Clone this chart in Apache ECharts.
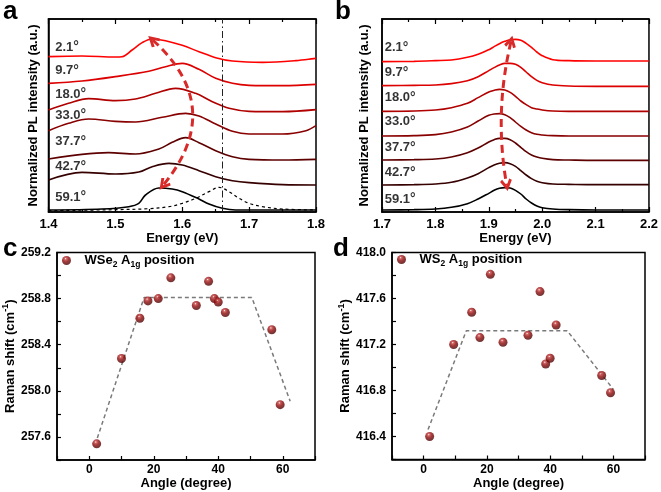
<!DOCTYPE html>
<html><head><meta charset="utf-8">
<script src="https://cdn.jsdelivr.net/npm/echarts@6/dist/echarts.min.js"></script>
<style>html,body{margin:0;padding:0;background:#fff}#c{width:661px;height:492px}</style>
</head><body><div id="c"></div>
<script>
// ---------------- data ----------------
const anglesPL = ['2.1', '9.7', '18.0', '33.0', '37.7', '42.7', '59.1'];

// Panel a: WSe2 PL spectra, [energy (eV), stacked intensity (a.u.)]
const plA_2_1  = [[1.40,466],[1.45,468],[1.50,465],[1.51,466],[1.525,486],[1.54,508],[1.555,519],[1.575,514],[1.60,500],[1.625,481],[1.65,463],[1.675,453],[1.72,449],[1.77,454],[1.80,461]];
const plA_9_7  = [[1.40,386],[1.45,393],[1.50,406],[1.55,422],[1.575,436],[1.60,446],[1.625,428],[1.65,401],[1.675,386],[1.70,380],[1.75,379],[1.80,383]];
const plA_18_0 = [[1.40,306],[1.43,326],[1.46,340],[1.50,334],[1.53,339],[1.56,356],[1.59,371],[1.62,356],[1.645,331],[1.67,311],[1.70,302],[1.75,301],[1.80,307]];
const plA_33_0 = [[1.40,244],[1.43,266],[1.46,279],[1.50,272],[1.53,270],[1.57,284],[1.605,296],[1.625,288],[1.65,264],[1.675,242],[1.70,234],[1.75,234],[1.785,244],[1.80,259]];
const plA_37_7 = [[1.40,159],[1.45,173],[1.49,178],[1.53,174],[1.565,189],[1.585,209],[1.605,223],[1.625,208],[1.65,184],[1.675,166],[1.70,158],[1.75,156],[1.80,158]];
const plA_42_7 = [[1.40,96],[1.45,119],[1.50,114],[1.535,120],[1.555,136],[1.58,146],[1.60,141],[1.625,124],[1.65,106],[1.675,94],[1.70,88],[1.75,82],[1.80,81]];
const plA_59_1 = [[1.40,6],[1.48,9],[1.52,16],[1.535,26],[1.545,51],[1.565,72],[1.585,69],[1.60,61],[1.625,39],[1.64,24],[1.66,11],[1.68,6],[1.80,6]];
const plA_fit  = [[1.40,4],[1.50,7],[1.55,10],[1.58,16],[1.60,26],[1.62,41],[1.64,61],[1.655,74],[1.67,61],[1.685,41],[1.70,26],[1.72,16],[1.75,9],[1.80,6]];
const refEnergyA = 1.655;
const arrowA = [[1.5558, 516], [1.5717, 81]];

// Panel b: WS2 PL spectra
const energyB = [1.70,1.76,1.80,1.83,1.86,1.88,1.90,1.91,1.92,1.93,1.94,1.95,1.96,1.97,1.98,1.99,2.00,2.02,2.05,2.10,2.15,2.20];
const plB_2_1  = [451,452,454,456,464,473,487,496,505,512,517,518,515,506,494,480,469,457,454,453,453,453];
const plB_9_7  = [379,380,381,385,394,406,424,433,441,446,446,443,434,420,406,395,388,381,378,377,377,377];
const plB_18_0 = [302,303,306,313,326,343,360,365,368,366,359,347,333,322,313,309,306,303,302,302,302,302];
const plB_33_0 = [228,229,232,240,255,273,290,294,295,292,283,270,257,246,238,233,231,229,228,228,228,228];
const plB_37_7 = [156,157,159,165,178,192,210,217,221,221,217,207,194,181,171,165,161,157,156,155,155,155];
const plB_42_7 = [81,82,84,89,102,115,133,141,146,148,145,137,124,111,100,92,88,84,83,82,82,82];
const plB_59_1 = [6,7,9,14,25,39,56,65,71,73,72,65,54,39,27,18,13,9,7,6,6,6];
const arrowB = [[1.9416, 511], [1.9335, 81]];

// Panel c: WSe2 A1g Raman position
const angleC = [2.3,10.0,15.7,18.2,21.4,25.3,33.2,37.0,38.8,40.0,42.2,56.6,59.2];
const ramanC = [257.54,258.28,258.63,258.78,258.80,258.98,258.74,258.95,258.80,258.77,258.68,258.53,257.88];
const guideC = [[2.5,257.59],[17,258.81],[50.4,258.81],[62.3,257.91]];

// Panel d: WS2 A1g Raman position
const angleD = [1.9,9.5,15.2,17.8,21.1,25.1,33.0,36.8,38.6,40.0,41.9,56.3,59.1];
const ramanD = [416.40,417.20,417.48,417.26,417.81,417.22,417.28,417.66,417.03,417.08,417.37,416.93,416.78];
const guideD = [[1.4,416.46],[13.5,417.32],[45.4,417.32],[60.0,416.81]];

// ---------------- styles ----------------
const FONT = '"Liberation Sans", Arial, sans-serif';
const curveColors = ['#ff0000','#dc0000','#b00000','#880000','#5e0000','#360000','#000000'];
const labelLevelA = [494,424,354,291,211,136,44];
const labelLevelB = [493,418,343,271,193,118,38];
const arrowColor = '#d92a2a';
const chevron = 'path://M0,8.5 L5,0 L10,8.5 L8,10 L5,4.6 L2,10 Z';
const sphere = {type:'radial', x:0.4, y:0.3, r:0.75, colorStops:[
  {offset:0, color:'#ffffff'}, {offset:0.15, color:'#c84040'}, {offset:0.45, color:'#8e0a0a'}, {offset:1, color:'#420000'}]};

const plA = [plA_2_1, plA_9_7, plA_18_0, plA_33_0, plA_37_7, plA_42_7, plA_59_1];
const plB = [plB_2_1, plB_9_7, plB_18_0, plB_33_0, plB_37_7, plB_42_7, plB_59_1];

const nameStyle = {fontFamily: FONT, fontWeight: 'bold', fontSize: 13, color: '#000'};
const axisLineStyle = {show: true, onZero: false, lineStyle: {color: '#000', width: 1.5}};

function energyAxis(grid, min, max, pos) {
  const bottom = pos === 'bottom';
  return {
    type: 'value', gridIndex: grid, position: pos, min: min, max: max, interval: 0.1,
    axisLine: axisLineStyle,
    axisTick: {show: true, inside: true, length: 5, lineStyle: {color: '#000', width: 1.2}},
    minorTick: {show: true, splitNumber: 2, length: 3, lineStyle: {color: '#000', width: 1.2}},
    axisLabel: {show: bottom, margin: 6, fontFamily: FONT, fontWeight: 'bold', fontSize: 13, color: '#000',
      formatter: v => v.toFixed(1)},
    splitLine: {show: false}, minorSplitLine: {show: false},
    name: bottom ? 'Energy (eV)' : '', nameLocation: 'middle', nameGap: 19, nameTextStyle: nameStyle
  };
}
function angleAxis(grid) {
  return {
    type: 'value', gridIndex: grid, min: -10, max: 70, interval: 10,
    axisLine: axisLineStyle,
    axisTick: {show: true, inside: true, length: 4, lineStyle: {color: '#000', width: 1.2}},
    axisLabel: {margin: 4, fontFamily: FONT, fontWeight: 'bold', fontSize: 12, color: '#000',
      formatter: v => (Math.round(v) % 20 === 0 ? String(Math.round(v)) : '')},
    splitLine: {show: false},
    name: 'Angle (degree)', nameLocation: 'middle', nameGap: 17, nameTextStyle: nameStyle
  };
}
const ramanName = '{n|Raman shift (cm}{p|-1}{n|)}';
const ramanRich = {
  n: {fontFamily: FONT, fontWeight: 'bold', fontSize: 13, color: '#000', lineHeight: 18, verticalAlign: 'middle'},
  p: {fontFamily: FONT, fontWeight: 'bold', fontSize: 9, color: '#000', lineHeight: 10, verticalAlign: 'top'}
};
function ramanAxis(grid, min, max, first, gap) {
  return {
    type: 'value', gridIndex: grid, min: min, max: max, interval: 0.2,
    axisLine: axisLineStyle,
    axisTick: {show: true, inside: true, length: 4, lineStyle: {color: '#000', width: 1.2}},
    axisLabel: {margin: 6, fontFamily: FONT, fontWeight: 'bold', fontSize: 12, color: '#000',
      formatter: v => { const m = Math.round(v * 10); return ((m - first) % 4 === 0 && m >= first) ? (m / 10).toFixed(1) : ''; }},
    splitLine: {show: false},
    name: ramanName, nameLocation: 'middle', nameGap: gap, nameRotate: 90,
    nameTextStyle: {rich: ramanRich}
  };
}
function plYAxis(grid, gap) {
  return {
    type: 'value', gridIndex: grid, min: 0, max: 579,
    axisLine: axisLineStyle, axisTick: {show: false}, axisLabel: {show: false}, splitLine: {show: false},
    name: 'Normalized PL intensity (a.u.)', nameLocation: 'middle', nameGap: gap, nameTextStyle: nameStyle
  };
}

const series = [];
// panel a curves
plA.forEach((d, i) => series.push({
  type: 'line', xAxisIndex: 0, yAxisIndex: 0, data: d, smooth: 0.35, symbol: 'none',
  lineStyle: {color: curveColors[i], width: 1.6}, z: 3
}));
series.push({
  type: 'line', xAxisIndex: 0, yAxisIndex: 0, data: plA_fit, smooth: 0.35, symbol: 'none',
  lineStyle: {color: '#000', width: 1.2, type: [3, 3]}, z: 3,
  markLine: {symbol: 'none', silent: true, label: {show: false},
    lineStyle: {color: '#222', width: 1, type: [7, 3, 1.5, 3]}, data: [{xAxis: refEnergyA}]}
});
// panel b curves
plB.forEach((d, i) => series.push({
  type: 'line', xAxisIndex: 2, yAxisIndex: 1, data: energyB.map((e, k) => [e, d[k]]), smooth: 0.35, symbol: 'none',
  lineStyle: {color: curveColors[i], width: 1.6}, z: 3
}));
// angle labels
function degLabels(xIdx, yIdx, x, levels) {
  return {
    type: 'scatter', xAxisIndex: xIdx, yAxisIndex: yIdx, symbolSize: 0, z: 5, silent: true,
    data: anglesPL.map((a, i) => ({value: [x, levels[i]], name: a})),
    label: {show: true, position: 'right', distance: 0, formatter: p => '{n|' + p.name + '}{d|°}',
      rich: {n: {fontFamily: FONT, fontWeight: 'bold', fontSize: 13, color: '#000'},
             d: {fontFamily: FONT, fontWeight: 'bold', fontSize: 14, color: '#000'}}}
  };
}
series.push(degLabels(0, 0, 1.41, labelLevelA));
series.push(degLabels(2, 1, 1.705, labelLevelB));
// arrows
function arrow(xIdx, yIdx, pts, curv) {
  return {
    type: 'lines', coordinateSystem: 'cartesian2d', xAxisIndex: xIdx, yAxisIndex: yIdx, z: 6, silent: true,
    symbol: [chevron, chevron], symbolSize: 12,
    lineStyle: {color: arrowColor, width: 3, type: [8, 5], curveness: curv, opacity: 1},
    data: [{coords: pts}]
  };
}
series.push(arrow(0, 0, arrowA, 0.476));
series.push(arrow(2, 1, arrowB, -0.104));
// panels c, d
series.push({type: 'line', xAxisIndex: 4, yAxisIndex: 2, data: guideC, symbol: 'none',
  lineStyle: {color: '#7a7a7a', width: 1.5, type: [4, 3]}, z: 2});
series.push({type: 'scatter', name: 'WSe2 A1g position', xAxisIndex: 4, yAxisIndex: 2,
  data: angleC.map((a, i) => [a, ramanC[i]]), symbolSize: 9, itemStyle: {color: sphere}, z: 4});
series.push({type: 'line', xAxisIndex: 5, yAxisIndex: 3, data: guideD, symbol: 'none',
  lineStyle: {color: '#7a7a7a', width: 1.5, type: [4, 3]}, z: 2});
series.push({type: 'scatter', name: 'WS2 A1g position', xAxisIndex: 5, yAxisIndex: 3,
  data: angleD.map((a, i) => [a, ramanD[i]]), symbolSize: 9, itemStyle: {color: sphere}, z: 4});

const legendRich = {
  n: {fontFamily: FONT, fontWeight: 'bold', fontSize: 13, color: '#000', lineHeight: 18, verticalAlign: 'middle'},
  s: {fontFamily: FONT, fontWeight: 'bold', fontSize: 8.5, color: '#000', lineHeight: 10, verticalAlign: 'bottom'}
};
function legend(name, label, left, top) {
  return {data: [name], left: left, top: top, itemWidth: 26, itemHeight: 9, itemGap: 0, padding: 0,
    selectedMode: false, formatter: () => label, textStyle: {rich: legendRich, padding: [0, 0, 0, 0]}};
}

function letter(t, x, y) {
  return {type: 'text', left: x, top: y, style: {text: t, fontFamily: FONT, fontWeight: 'bold', fontSize: 26, fill: '#000'}};
}

const option = {
  animation: false,
  backgroundColor: '#fff',
  grid: [
    {left: 48.5, top: 19, width: 267.5, height: 193, show: true, borderColor: '#000', borderWidth: 1.5},
    {left: 382, top: 19, width: 269, height: 193, show: true, borderColor: '#000', borderWidth: 1.5},
    {left: 57, top: 252.5, width: 258, height: 207.5, show: true, borderColor: '#000', borderWidth: 1.5},
    {left: 392, top: 252.5, width: 253, height: 207, show: true, borderColor: '#000', borderWidth: 1.5}
  ],
  xAxis: [
    energyAxis(0, 1.4, 1.8, 'bottom'), energyAxis(0, 1.4, 1.8, 'top'),
    energyAxis(1, 1.7, 2.2, 'bottom'), energyAxis(1, 1.7, 2.2, 'top'),
    angleAxis(2), angleAxis(3)
  ],
  yAxis: [
    plYAxis(0, 9), plYAxis(1, 11),
    ramanAxis(2, 257.4, 259.2, 2576, 38),
    ramanAxis(3, 416.2, 418.0, 4164, 36)
  ],
  legend: [
    legend('WSe2 A1g position', '{n|WSe}{s|2}{n| A}{s|1g}{n| position}', 62, 254),
    legend('WS2 A1g position', '{n|WS}{s|2}{n| A}{s|1g}{n| position}', 397, 253)
  ],
  graphic: [letter('a', 3, -1), letter('b', 335, -1), letter('c', 3, 236), letter('d', 333, 236)],
  series: series
};
const chart = echarts.init(document.getElementById('c'), null, {renderer: 'canvas'});
chart.setOption(option);
</script></body></html>
